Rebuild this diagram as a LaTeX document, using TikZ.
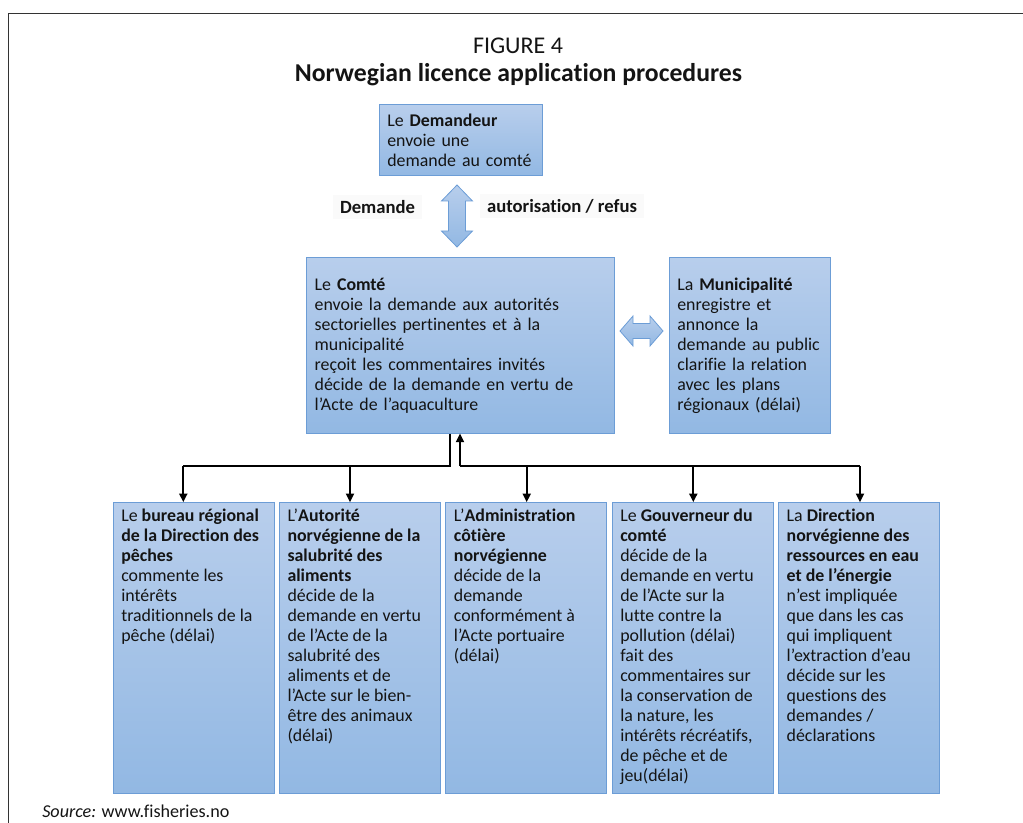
\documentclass[tikz,border=0pt]{standalone}
\usepackage{fontspec}
\setmainfont{Carlito}[Ligatures={NoCommon}]
\usetikzlibrary{arrows.meta}
\definecolor{boxtop}{RGB}{184,206,236}
\definecolor{boxbot}{RGB}{146,184,227}
\definecolor{boxline}{RGB}{108,157,214}
\definecolor{txt}{RGB}{20,20,20}
\definecolor{lblbg}{RGB}{250,250,250}
\newcommand{\bodyfnt}{\fontsize{13.4}{15}\selectfont}
\newcommand{\tbx}[1]{\parbox[c][217.95pt][t]{108.75pt}{\raggedright\rule{0pt}{14pt}#1}}
\begin{document}
\begin{tikzpicture}[x=0.75pt,y=-0.75pt,
  box/.style={draw=boxline, line width=0.75pt, top color=boxtop, bottom color=boxbot,
    inner xsep=6pt, inner ysep=0pt, font=\bodyfnt, text=txt, align=left},
  midbox/.style={box, minimum height=131.5pt},
  lowbox/.style={box, minimum width=120.75pt, minimum height=217.95pt},
  conn/.style={line width=1.5pt, black, line join=miter},
  arr/.style={conn, -{Triangle[length=6.5pt,width=6pt]}},
  lbl/.style={fill=lblbg, font=\fontsize{14}{16}\selectfont\bfseries, text=txt, inner xsep=5pt, inner ysep=4pt},
  blockarrow/.style={draw=boxline, line width=0.6pt, top color=boxtop, bottom color=boxbot}]
\useasboundingbox (0,0) rectangle (1023,823);
% frame
\draw[line width=1.1pt, black!80] (8.3,823) -- (8.3,13.3) -- (1023,13.3);
% titles
\node[text=txt] (fig) at (518,46) {\fontsize{18}{20}\selectfont FIGURE 4};
\node[text=txt] (title) at (518.5,75) {\fontsize{19.3}{22}\selectfont\bfseries Norwegian licence application procedures};
% top boxes
\node[box, minimum width=122.55pt, minimum height=53.25pt, text width=110.55pt] (dem) at (461,140.5)
  {Le \textbf{Demandeur}\\envoie une\\demande au comté};
\node[midbox, minimum width=230.7pt, text width=218.7pt] (comte) at (460.5,345.35)
  {Le \textbf{Comté}\\envoie la demande aux autorités\\sectorielles pertinentes et à la\\municipalité\\reçoit les commentaires invités\\décide de la demande en vertu de\\l’Acte de l’aquaculture};
\node[midbox, minimum width=121.05pt, text width=109.05pt] (muni) at (750,345.35)
  {La \textbf{Municipalité}\\enregistre et\\annonce la\\demande au public\\clarifie la relation\\avec les plans\\régionaux (délai)};
% labels
\node[lbl] (ldem) at (377.5,207) {Demande};
\node[lbl] (lauto) at (562,206) {autorisation / refus};
% block arrows
\path[blockarrow] (457,185) -- (472.5,201) -- (465.5,201) -- (465.5,231) -- (472.5,231) -- (457,247)
  -- (441.5,231) -- (448.5,231) -- (448.5,201) -- (441.5,201) -- cycle;
\path[blockarrow] (620,331) -- (633,316) -- (633,323.5) -- (650,323.5) -- (650,316) -- (663,331)
  -- (650,346) -- (650,338.5) -- (633,338.5) -- (633,346) -- cycle;
% bottom boxes
\node[lowbox] (b1) at (193.8,648) {\tbx{Le \textbf{bureau régional}\\\textbf{de la Direction des}\\\textbf{pêches}\\commente les\\intérêts\\traditionnels de la\\pêche (délai)}};
\node[lowbox] (b2) at (360,648) {\tbx{L’\textbf{Autorité}\\\textbf{norvégienne de la}\\\textbf{salubrité des}\\\textbf{aliments}\\décide de la\\demande en vertu\\de l’Acte de la\\salubrité des\\aliments et de\\l’Acte sur le bien-\\être des animaux\\(délai)}};
\node[lowbox] (b3) at (526.4,648) {\tbx{L’\textbf{Administration}\\\textbf{côtière}\\\textbf{norvégienne}\\décide de la\\demande\\conformément à\\l’Acte portuaire\\(délai)}};
\node[lowbox] (b4) at (692.8,648) {\tbx{Le \textbf{Gouverneur du}\\\textbf{comté}\\décide de la\\demande en vertu\\de l’Acte sur la\\lutte contre la\\pollution (délai)\\fait des\\commentaires sur\\la conservation de\\la nature, les\\intérêts récréatifs,\\de pêche et de\\jeu(délai)}};
\node[lowbox] (b5) at (859.2,648) {\tbx{La \textbf{Direction}\\\textbf{norvégienne des}\\\textbf{ressources en eau}\\\textbf{et de l’énergie}\\n’est impliquée\\que dans les cas\\qui impliquent\\l’extraction d’eau\\décide sur les\\questions des\\demandes /\\déclarations}};
% connectors
\coordinate (jL) at (450,466);
\coordinate (jR) at (460,466);
\coordinate (a1) at (183.3,466);
\coordinate (a2) at (350,466);
\coordinate (a3) at (526.7,466);
\coordinate (a4) at (693.3,466);
\coordinate (a5) at (860,466);
\draw[conn] (comte.south -| jL) -- (jL) -- (a1);
\draw[arr] (a1) -- (a1 |- b1.north);
\draw[arr] (a2) -- (a2 |- b2.north);
\draw[arr] (jR) -- (jR |- comte.south);
\draw[conn] (jR) -- (a5);
\draw[arr] (a3) -- (a3 |- b3.north);
\draw[arr] (a4) -- (a4 |- b4.north);
\draw[arr] (a5) -- (a5 |- b5.north);
% source
\node[anchor=west, text=txt, inner sep=0pt] (src) at (42,811.5) {\fontsize{13.6}{15}\selectfont\textit{Source:} www.fisheries.no};
\end{tikzpicture}
\end{document}
